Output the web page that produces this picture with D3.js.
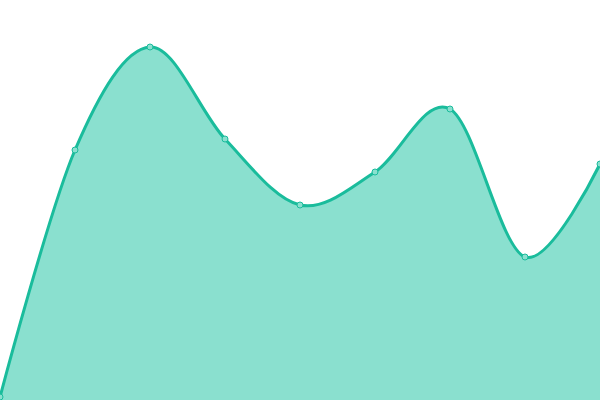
<!DOCTYPE html>
<html>
<head>
<meta charset="utf-8">
<script src="https://cdn.jsdelivr.net/npm/d3@7"></script>
<style>
  html, body { margin: 0; padding: 0; background: #fff; }
  svg { display: block; }
</style>
</head>
<body>
<svg width="600" height="400"></svg>
<script>
// chart data
const steps = [0, 1, 2, 3, 4, 5, 6, 7, 8];
const values = [3, 250, 353, 261, 195, 228, 291, 143, 236];

const svg = d3.select('svg');
const width = +svg.attr('width');
const height = +svg.attr('height');

const data = steps.map((s, i) => ({ x: s, y: values[i] }));

// scales fill whole picture
const xScale = d3.scaleLinear()
  .domain([0, d3.max(steps)])
  .range([0, width]);

const yScale = d3.scaleLinear()
  .domain([0, 400])
  .range([height, 0]);

const area = d3.area()
  .x(d => xScale(d.x))
  .y0(height)
  .y1(d => yScale(d.y))
  .curve(d3.curveCardinal);

const line = d3.line()
  .x(d => xScale(d.x))
  .y(d => yScale(d.y))
  .curve(d3.curveCardinal);

svg.append('path')
  .datum(data)
  .attr('d', area)
  .attr('fill', '#8ae0cf');

svg.append('path')
  .datum(data)
  .attr('d', line)
  .attr('fill', 'none')
  .attr('stroke', '#1abc9c')
  .attr('stroke-width', 3);

svg.selectAll('circle').data(data)
  .enter().append('circle')
  .attr('cx', d => xScale(d.x))
  .attr('cy', d => yScale(d.y))
  .attr('r', 3)
  .attr('fill', '#8ae0cf')
  .attr('stroke', '#1abc9c')
  .attr('stroke-width', 1);
</script>
</body>
</html>
